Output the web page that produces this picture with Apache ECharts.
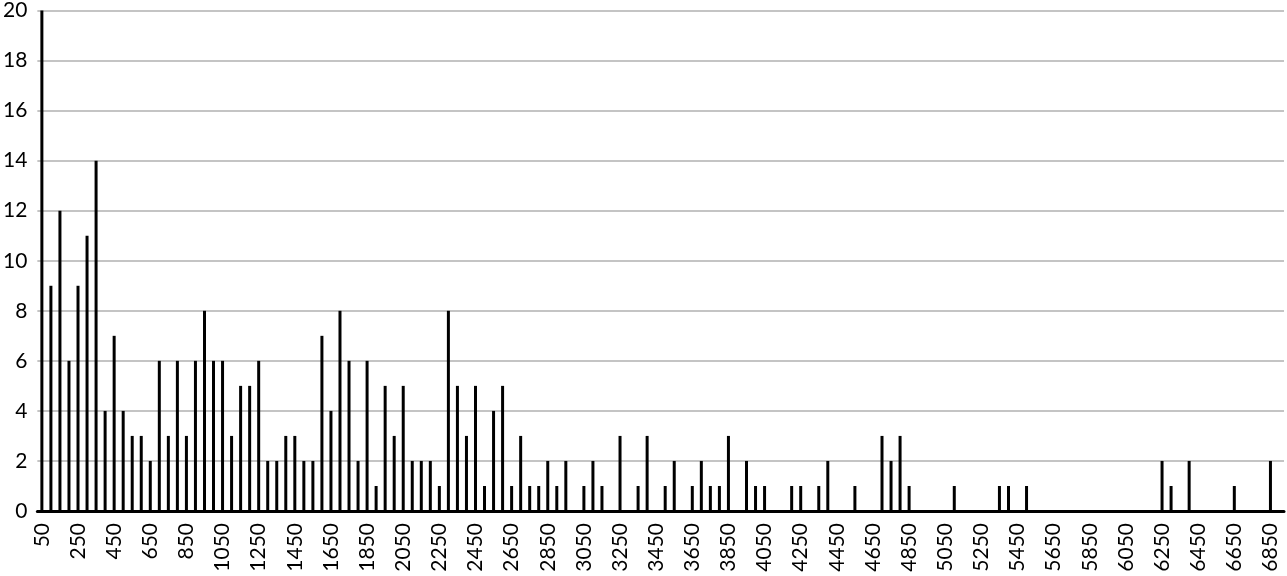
<!DOCTYPE html>
<html>
<head>
<meta charset="utf-8">
<script src="https://cdn.jsdelivr.net/npm/echarts@6/dist/echarts.min.js"></script>
<style>
  html, body { margin: 0; padding: 0; background: #fff; }
  #chart { width: 1287px; height: 576px; }
</style>
</head>
<body>
<div id="chart"></div>
<script>
// bin start values (step 50); the last bin has no bar and no label
const categories = [
  50, 100, 150, 200, 250, 300, 350, 400, 450, 500, 550, 600, 650, 700, 750, 800,
  850, 900, 950, 1000, 1050, 1100, 1150, 1200, 1250, 1300, 1350, 1400, 1450, 1500, 1550, 1600,
  1650, 1700, 1750, 1800, 1850, 1900, 1950, 2000, 2050, 2100, 2150, 2200, 2250, 2300, 2350, 2400,
  2450, 2500, 2550, 2600, 2650, 2700, 2750, 2800, 2850, 2900, 2950, 3000, 3050, 3100, 3150, 3200,
  3250, 3300, 3350, 3400, 3450, 3500, 3550, 3600, 3650, 3700, 3750, 3800, 3850, 3900, 3950, 4000,
  4050, 4100, 4150, 4200, 4250, 4300, 4350, 4400, 4450, 4500, 4550, 4600, 4650, 4700, 4750, 4800,
  4850, 4900, 4950, 5000, 5050, 5100, 5150, 5200, 5250, 5300, 5350, 5400, 5450, 5500, 5550, 5600,
  5650, 5700, 5750, 5800, 5850, 5900, 5950, 6000, 6050, 6100, 6150, 6200, 6250, 6300, 6350, 6400,
  6450, 6500, 6550, 6600, 6650, 6700, 6750, 6800, 6850, 6900
]

// counts per bin
const counts = [
  20, 9, 12, 6, 9, 11, 14, 4, 7, 4, 3, 3, 2, 6, 3, 6,
  3, 6, 8, 6, 6, 3, 5, 5, 6, 2, 2, 3, 3, 2, 2, 7,
  4, 8, 6, 2, 6, 1, 5, 3, 5, 2, 2, 2, 1, 8, 5, 3,
  5, 1, 4, 5, 1, 3, 1, 1, 2, 1, 2, 0, 1, 2, 1, 0,
  3, 0, 1, 3, 0, 1, 2, 0, 1, 2, 1, 1, 3, 0, 2, 1,
  1, 0, 0, 1, 1, 0, 1, 2, 0, 0, 1, 0, 0, 3, 2, 3,
  1, 0, 0, 0, 0, 1, 0, 0, 0, 0, 1, 1, 0, 1, 0, 0,
  0, 0, 0, 0, 0, 0, 0, 0, 0, 0, 0, 0, 2, 1, 0, 2,
  0, 0, 0, 0, 1, 0, 0, 0, 2, 0
]

const yTicks = { min: 0, max: 20, interval: 2 }

const chart = echarts.init(document.getElementById('chart'), null, { renderer: 'canvas' })

chart.setOption({
  animation: false,
  backgroundColor: '#fff',
  grid: { left: 34, right: 3, top: 9, bottom: 65, containLabel: false },
  xAxis: {
    type: 'category',
    data: categories,
    boundaryGap: true,
    axisLine: { show: true, lineStyle: { color: '#000', width: 3 } },
    axisTick: { show: false },
    axisLabel: {
      interval: 3,
      rotate: 90,
      margin: 12,
      color: '#000',
      fontFamily: 'Lato',
      fontSize: 21,
    },
    splitLine: { show: false },
  },
  yAxis: {
    type: 'value',
    min: yTicks.min,
    max: yTicks.max,
    interval: yTicks.interval,
    axisLine: { show: false },
    axisTick: { show: false },
    axisLabel: {
      margin: 10,
      color: '#000',
      fontFamily: 'Lato',
      fontSize: 21,
    },
    splitLine: { show: true, lineStyle: { color: '#c4c4c4', width: 2 } },
  },
  series: [{
    type: 'bar',
    data: counts,
    barWidth: 3,
    itemStyle: { color: '#000' },
  }],
})
</script>
</body>
</html>
